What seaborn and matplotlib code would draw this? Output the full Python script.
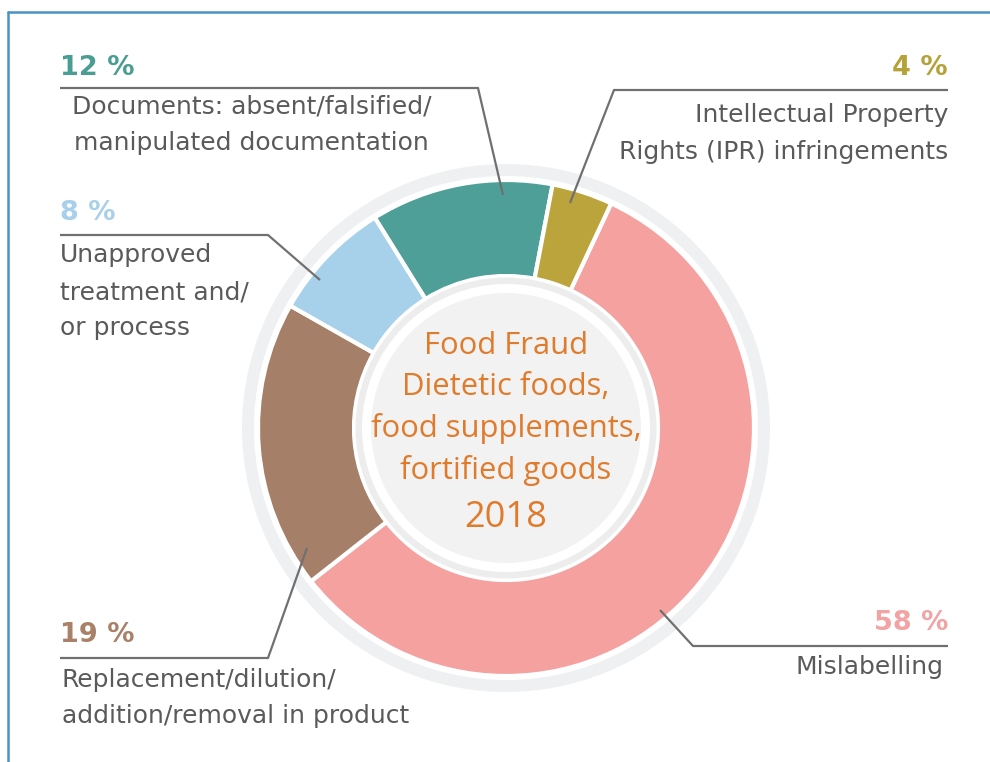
import matplotlib
matplotlib.use("Agg")
import matplotlib.pyplot as plt
import seaborn as sns
from matplotlib.patches import Circle, Wedge

sns.set_theme(style="white")
plt.rcParams['font.family'] = ['DejaVu Sans']

# ---- data ----
categories = ["Mislabelling", "Replacement/dilution/addition/removal in product",
              "Unapproved treatment and/or process",
              "Documents: absent/falsified/manipulated documentation",
              "Intellectual Property Rights (IPR) infringements"]
values = [58, 19, 8, 12, 4]
pct_labels = ["58 %", "19 %", "8 %", "12 %", "4 %"]
colors = ["#f4a1a0", "#a57f68", "#a7d0ea", "#4f9f99", "#bba43c"]
pct_colors = ["#f2a3a3", "#a98168", "#a8d0ea", "#4a9d93", "#b6a23a"]
center_lines = ["Food Fraud", "Dietetic foods,", "food supplements,", "fortified goods"]
center_year = "2018"

W, H = 990, 762
fig = plt.figure(figsize=(W / 100, H / 100), dpi=100)
ax = fig.add_axes([0, 0, 1, 1])

def P(x, y):
    return (x, H - y)

cx, cy = P(506, 428)
R = 248
r_in = 152

# outer light ring
ax.add_patch(Wedge((cx, cy), R + 16, 0, 360, width=12, facecolor="#eff0f2", edgecolor="none", zorder=1))

ax.pie(values, colors=colors, startangle=64.9, counterclock=False,
       radius=R, center=(cx, cy), frame=True,
       wedgeprops=dict(width=R - r_in, edgecolor="white", linewidth=3))

# inner discs
ax.add_patch(Circle((cx, cy), r_in - 1.5, facecolor="#ededed", edgecolor="none", zorder=3))
ax.add_patch(Circle((cx, cy), 144, facecolor="#ffffff", edgecolor="none", zorder=3))
ax.add_patch(Circle((cx, cy), 135, facecolor="#f2f2f2", edgecolor="none", zorder=3))

ax.set_xlim(0, W)
ax.set_ylim(0, H)
ax.set_aspect("equal")
ax.axis("off")

# center text
orange = "#e07b2c"
cys = [346, 387, 428, 470]
for t, yy in zip(center_lines, cys):
    ax.text(*P(506, yy), t, ha="center", va="center", fontsize=22.3, color=orange,
            family="Open Sans", zorder=5)
ax.text(*P(506, 518), center_year, ha="center", va="center", fontsize=26, color=orange,
        family="Open Sans", zorder=5)

grey = "#5a5a5a"
lc = "#707070"
lab_fs = 18
pct_fs = 19.5

def leader(pts):
    xs = [P(*p)[0] for p in pts]
    ys = [P(*p)[1] for p in pts]
    ax.plot(xs, ys, color=lc, lw=1.6, zorder=6, solid_capstyle="butt")

# 12 % Documents
leader([(60, 88), (478, 88), (503, 195)])
ax.text(*P(60, 68), pct_labels[3], ha="left", va="center", fontsize=pct_fs,
        color=pct_colors[3], fontweight="bold")
ax.text(*P(72, 106), "Documents: absent/falsified/", ha="left", va="center", fontsize=lab_fs, color=grey)
ax.text(*P(74, 143), "manipulated documentation", ha="left", va="center", fontsize=lab_fs, color=grey)

# 4 % IPR
leader([(948, 90), (614, 90), (570, 203)])
ax.text(*P(948, 68), pct_labels[4], ha="right", va="center", fontsize=pct_fs,
        color=pct_colors[4], fontweight="bold")
ax.text(*P(948, 115), "Intellectual Property", ha="right", va="center", fontsize=lab_fs, color=grey)
ax.text(*P(948, 152), "Rights (IPR) infringements", ha="right", va="center", fontsize=lab_fs, color=grey)

# 8 % Unapproved
leader([(60, 235), (268, 235), (320, 280)])
ax.text(*P(60, 213), pct_labels[2], ha="left", va="center", fontsize=pct_fs,
        color=pct_colors[2], fontweight="bold")
for t, yy in zip(["Unapproved", "treatment and/", "or process"], [255, 292, 328]):
    ax.text(*P(60, yy), t, ha="left", va="center", fontsize=lab_fs, color=grey)

# 19 % Replacement
leader([(60, 658), (268, 658), (307, 548)])
ax.text(*P(60, 635), pct_labels[1], ha="left", va="center", fontsize=pct_fs,
        color=pct_colors[1], fontweight="bold")
ax.text(*P(62, 680), "Replacement/dilution/", ha="left", va="center", fontsize=lab_fs, color=grey)
ax.text(*P(62, 716), "addition/removal in product", ha="left", va="center", fontsize=lab_fs, color=grey)

# 58 % Mislabelling
leader([(948, 646), (693, 646), (660, 610)])
ax.text(*P(948, 623), pct_labels[0], ha="right", va="center", fontsize=pct_fs,
        color=pct_colors[0], fontweight="bold")
ax.text(*P(943, 667), "Mislabelling", ha="right", va="center", fontsize=lab_fs, color=grey)

# frame lines (top, left)
ax.plot([8, W], [H - 12, H - 12], color="#4a93c4", lw=1.8, zorder=7)
ax.plot([8, 8], [H - 12, 0], color="#4a93c4", lw=1.8, zorder=7)

fig.savefig("out.png", dpi=100, facecolor="white")
